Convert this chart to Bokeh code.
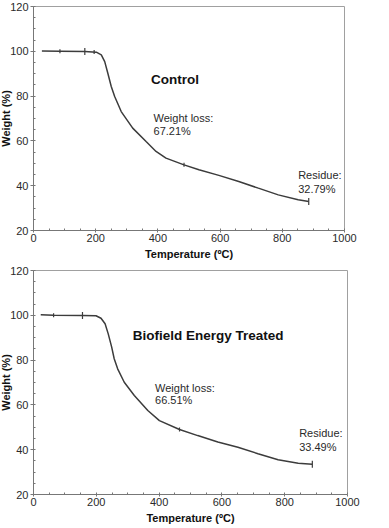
import math
from bokeh.plotting import figure
from bokeh.layouts import column
from bokeh.models import ColumnDataSource, Range1d, SingleIntervalTicker
from bokeh.core.properties import value
from bokeh.embed import file_html
from bokeh.resources import INLINE

# ---- data ----
ctrl_temp = [27, 85, 165, 202, 218, 229, 239, 250, 261, 282, 319, 362, 394, 426, 484, 532, 596, 660, 723, 787, 851, 885]
ctrl_wt = [100.1, 100.0, 99.9, 99.6, 98.4, 95.4, 90.2, 84.3, 79.8, 73.1, 65.7, 59.7, 55.3, 52.3, 49.3, 47.1, 44.6, 41.9, 38.9, 35.9, 33.7, 32.9]
ctrl_mark_temp = [85, 165, 195, 484, 885]
ctrl_mark_wt = [100.0, 99.9, 99.7, 49.3, 32.9]
ctrl_mark_size = [4, 7, 4, 4, 7]

trt_temp = [23, 64, 156, 199, 215, 228, 238, 249, 257, 268, 289, 321, 364, 401, 465, 523, 587, 651, 715, 779, 843, 888]
trt_wt = [100.2, 100.0, 99.9, 99.8, 98.7, 96.2, 91.7, 85.8, 80.6, 76.1, 70.1, 64.2, 57.5, 53.0, 49.0, 46.3, 43.4, 41.1, 38.2, 35.5, 34.0, 33.5]
trt_mark_temp = [64, 156, 465, 888]
trt_mark_wt = [100.0, 99.9, 49.0, 33.5]
trt_mark_size = [4, 7, 4, 7]

x_ticks = [0, 200, 400, 600, 800, 1000]
y_ticks = [20, 40, 60, 80, 100, 120]

ctrl_title = "Control"
ctrl_loss = ["Weight loss:", "67.21%"]
ctrl_res = ["Residue:", "32.79%"]
trt_title = "Biofield Energy Treated"
trt_loss = ["Weight loss:", "66.51%"]
trt_res = ["Residue:", "33.49%"]

FONT = "Liberation Sans"
LINE = "#3c3c3c"
TXT = "#2a2a2a"


def make_panel(temp, wt, mtemp, mwt, msize, title, title_xy, loss, loss_xy, res, res_xy, border_left):
    p = figure(width=border_left + 314 + 20, height=264,
               min_border_left=border_left, min_border_right=20, min_border_top=7, min_border_bottom=33,
               output_backend="svg", toolbar_location=None,
               x_range=Range1d(0, 1000), y_range=Range1d(20, 120))
    p.background_fill_color = "white"
    p.border_fill_color = "white"
    p.outline_line_color = "#a0a0a0"
    p.outline_line_width = 1
    p.grid.visible = False

    p.xaxis.ticker = SingleIntervalTicker(interval=200, num_minor_ticks=4)
    p.yaxis.ticker = SingleIntervalTicker(interval=20, num_minor_ticks=4)
    for ax in (p.xaxis, p.yaxis):
        ax.axis_line_color = "#777777"
        ax.axis_line_width = 1
        ax.major_tick_line_color = "#777777"
        ax.minor_tick_line_color = "#777777"
        ax.major_tick_in = 0
        ax.minor_tick_in = 2
        ax.minor_tick_out = 0
        ax.major_label_text_font = FONT
        ax.major_label_text_font_size = "11px"
        ax.major_label_text_color = TXT
        ax.axis_label_text_font = FONT
        ax.axis_label_text_font_size = "11px"
        ax.axis_label_text_font_style = "bold"
        ax.axis_label_text_color = "#111111"
    p.xaxis.major_tick_out = 2
    p.xaxis.major_label_standoff = 1
    p.xaxis.axis_label_standoff = 3
    p.yaxis.major_tick_out = 3
    p.yaxis.major_label_standoff = 2
    p.yaxis.axis_label_standoff = -5
    p.xaxis.axis_label = "Temperature (ºC)"
    p.yaxis.axis_label = "Weight (%)"

    p.line(temp, wt, line_color=LINE, line_width=1.5)
    src = ColumnDataSource(dict(x=mtemp, y=mwt, s=msize))
    p.scatter("x", "y", size="s", marker="dash", angle=math.pi / 2, line_color=LINE,
              line_width=1.2, source=src)

    p.text(x=[title_xy[0]], y=[title_xy[1]], text=[title], text_font=value(FONT),
           text_font_size="13.5px", text_font_style="bold", text_color="#111111",
           text_align="left", text_baseline="middle")
    p.text(x=[loss_xy[0], loss_xy[0]], y=[loss_xy[1], loss_xy[2]], text=loss, text_font=value(FONT),
           text_font_size="11px", text_color=TXT, text_align="left", text_baseline="middle")
    p.text(x=[res_xy[0], res_xy[0]], y=[res_xy[1], res_xy[2]], text=res, text_font=value(FONT),
           text_font_size="11px", text_color=TXT, text_align="left", text_baseline="middle")
    return p


p1 = make_panel(ctrl_temp, ctrl_wt, ctrl_mark_temp, ctrl_mark_wt, ctrl_mark_size,
                ctrl_title, (378, 87.3), ctrl_loss, (386, 70.1, 64.6), ctrl_res, (851, 44.6, 38.6), 33)
p2 = make_panel(trt_temp, trt_wt, trt_mark_temp, trt_mark_wt, trt_mark_size,
                trt_title, (316, 91.0), trt_loss, (387, 67.6, 62.0), trt_res, (846, 47.4, 41.4), 36)

layout = column(p1, p2, spacing=0, styles={"margin": "-1px 0px -8px -3px"})

open("out.html", "w").write(file_html(layout, INLINE))
